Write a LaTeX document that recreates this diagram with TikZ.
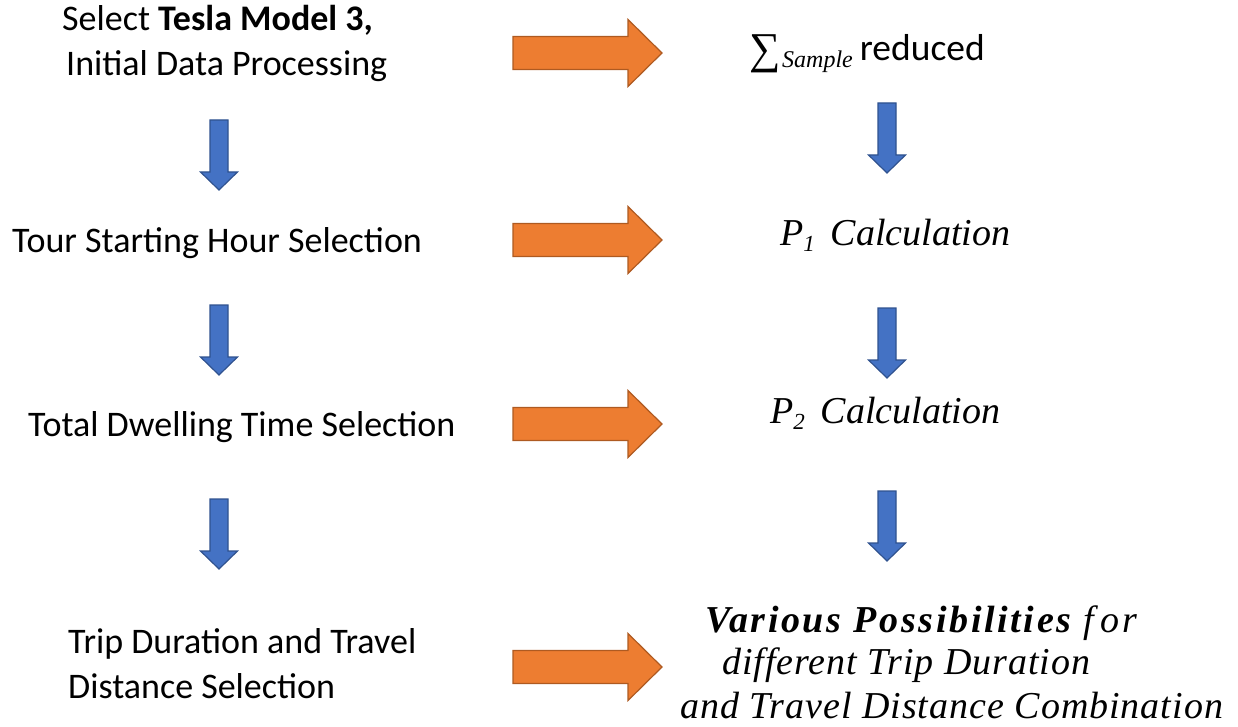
\documentclass[tikz,border=0pt]{standalone}
\usepackage{fontspec}
\setmainfont{Carlito}
\newfontfamily\mathserif{Liberation Serif}
\definecolor{oFill}{HTML}{ED7D31}
\definecolor{oLine}{HTML}{AE5A21}
\definecolor{bFill}{HTML}{4472C4}
\definecolor{bLine}{HTML}{2F528F}
\tikzset{
  lefttext/.style={inner sep=0pt, anchor=west, align=left, font=\fontsize{36}{45}\selectfont},
  righttext/.style={inner sep=0pt, anchor=west, font=\mathserif\itshape\fontsize{38}{44}\selectfont},
  orangearrow/.pic={
    \draw[fill=oFill, draw=oLine, line width=1.2pt, line join=miter]
      (0,-16.5) -- (115,-16.5) -- (115,-33.5) -- (149,0) -- (115,33.5) -- (115,16.5) -- (0,16.5) -- cycle;},
  bluearrow/.pic={
    \draw[fill=bFill, draw=bLine, line width=1.2pt, line join=miter]
      (-9,0) -- (9,0) -- (9,52) -- (18.5,52) -- (0,70) -- (-18.5,52) -- (-9,52) -- cycle;}
}
\begin{document}
\begin{tikzpicture}[x=1pt,y=-1pt]
\useasboundingbox (0,0) rectangle (1238,727);
% left column
\node[lefttext] (l1) at (62,43) {Select \textbf{Tesla Model 3,}\\\hspace*{4pt}Initial Data Processing};
\node[lefttext] (l2) at (12,243) {Tour Starting Hour Selection};
\node[lefttext] (l3) at (28,427) {Total Dwelling Time Selection};
\node[lefttext] (l4) at (68,664) {Trip Duration and Travel\\Distance Selection};
% right column
\node[inner sep=0pt, anchor=west] (r1) at (749,54)
  {{\mathserif\fontsize{44}{44}\selectfont\raisebox{-3pt}{∑}}\,{\mathserif\itshape\fontsize{24}{24}\selectfont\raisebox{-7pt}{Sample}}\hspace{7pt}{\fontsize{37.5}{36}\selectfont reduced}};
\node[righttext] (r2) at (780,235) {P{\fontsize{23}{23}\selectfont\raisebox{-6pt}{1}}\, Calculation};
\node[righttext] (r3) at (770,413) {P{\fontsize{23}{23}\selectfont\raisebox{-6pt}{2}}\, Calculation};
\node[righttext] (r4a) at (705,623) {\addfontfeature{LetterSpace=7}\bfseries Various Possibilities {\mdseries f\,or}};
\node[righttext] (r4b) at (722,665) {\addfontfeature{LetterSpace=2.5}different Trip Duration};
\node[righttext] (r4c) at (680,706) {\addfontfeature{LetterSpace=2.6}and Travel Distance Combination};
% orange arrows
\pic at (513,53) {orangearrow};
\pic at (513,240) {orangearrow};
\pic at (513,424) {orangearrow};
\pic at (513,667) {orangearrow};
% blue arrows
\pic at (219,120) {bluearrow};
\pic at (219,305) {bluearrow};
\pic at (219,499) {bluearrow};
\pic at (887,103) {bluearrow};
\pic at (887,308) {bluearrow};
\pic at (887,491) {bluearrow};
\end{tikzpicture}
\end{document}
